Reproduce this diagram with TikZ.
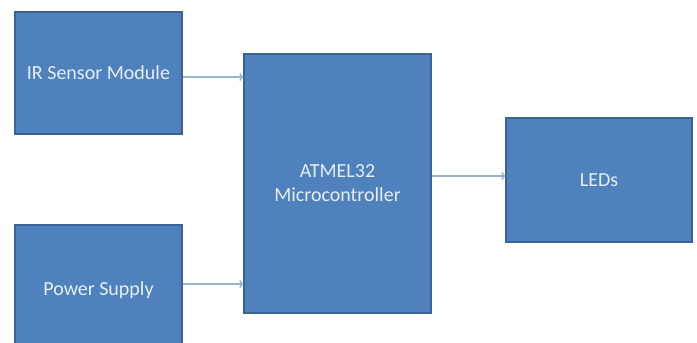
\documentclass[tikz,border=0pt]{standalone}
\usepackage{fontspec}
\setmainfont{Carlito}
\usetikzlibrary{arrows.meta}
\definecolor{boxfill}{HTML}{4F81BD}
\definecolor{boxline}{HTML}{3A6497}
\definecolor{boxtext}{HTML}{E6EEF8}
\definecolor{arrowcol}{HTML}{9AB2D3}
\tikzset{
  blockbox/.style={draw=boxline, line width=1.2pt, fill=boxfill, text=boxtext,
    font=\fontsize{20}{24}\selectfont, align=center, inner sep=0pt},
  link/.style={draw=arrowcol, line width=1.5pt, -{To[length=4pt,width=8pt]}}
}
\begin{document}
\begin{tikzpicture}[x=1pt,y=-1pt]
\useasboundingbox (0,0) rectangle (697,343);
\clip (0,0) rectangle (697,343);
\fill[white] (0,0) rectangle (697,343);
\node[blockbox, minimum width=167pt, minimum height=122pt] (ir) at (98.5,73) {IR Sensor Module};
\node[blockbox, minimum width=167pt, minimum height=130pt] (ps) at (98.5,290) {Power Supply};
\node[blockbox, minimum width=187pt, minimum height=259pt] (mc) at (337.5,183.5) {ATMEL32\\Microcontroller};
\node[blockbox, minimum width=186pt, minimum height=124pt] (led) at (599,180) {LEDs};
\draw[link] ([yshift=-4pt]ir.east) -- ([yshift=-4pt]ir.east -| mc.west);
\draw[link] ([yshift=6pt]ps.east) -- ([yshift=6pt]ps.east -| mc.west);
\draw[link] ([yshift=4pt]led.west -| mc.east) -- ([yshift=4pt]led.west);
\end{tikzpicture}
\end{document}
